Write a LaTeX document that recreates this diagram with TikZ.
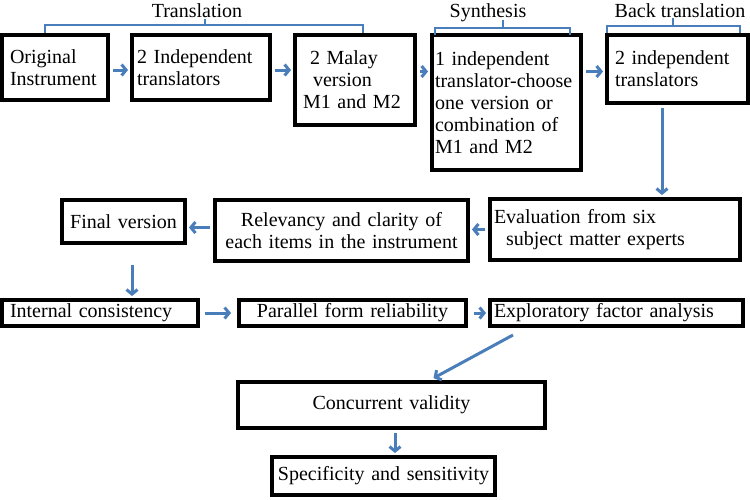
\documentclass[tikz,border=0pt]{standalone}
\usepackage{fontspec}
\setmainfont{Liberation Serif}
\usetikzlibrary{arrows.meta,positioning}
\definecolor{arrblue}{RGB}{74,126,187}

\begin{document}
\begin{tikzpicture}[x=1pt,y=-1pt,
every node/.style={draw,line width=4pt,inner ysep=0pt,font=\fontsize{20}{22}\selectfont},
arr/.style={draw=arrblue,line width=3pt,shorten <=3pt,shorten >=2pt,
  -{Straight Barb[length=4.5pt,width=11pt]}},
brace/.style={draw=arrblue,line width=1.5pt},
lbl/.style={draw=none,anchor=base}]

\useasboundingbox (0,0) rectangle (750,499);

% first row
\node[text width=90pt,inner xsep=8pt,minimum height=65pt,align=left]
(B1) at (55,67.5) {Original\\Instrument};
\node[text width=128pt,inner xsep=5pt,minimum height=65pt,align=left]
(B2) at (201,67.5) {2 Independent\\translators};
\node[text width=104pt,inner xsep=8pt,minimum height=90pt,align=left]
(B3) at (355,80) {\hspace*{7pt}2 Malay\\\hspace*{10pt}version\\M1 and M2};
\node[text width=143pt,inner xsep=3pt,minimum height=135pt,align=left]
(B4) at (506.5,102.5) {1 independent\\translator-choose\\one version or\\combination of\\M1 and M2};
\node[text width=125pt,inner xsep=8pt,minimum height=68pt,align=left]
(B5) at (677.5,69) {2 independent\\translators};

% second row
\node[text width=113pt,inner xsep=5pt,minimum height=43pt,align=center]
(B6) at (123.5,221.5) {Final version};
\node[text width=243pt,inner xsep=5pt,minimum height=61pt,align=center]
(B7) at (341.5,230.5) {Relevancy and clarity of\\each items in the instrument};
\node[text width=242pt,inner xsep=4pt,minimum height=61pt,align=left]
(B8) at (615,229.5) {Evaluation from six\\\hspace*{12pt}subject matter experts};

% third row
\node[text width=180pt,inner xsep=8pt,minimum height=26pt,align=left]
(B9) at (100,313) {Internal consistency};
\node[text width=217pt,inner xsep=5pt,minimum height=26pt,align=center]
(B10) at (352.5,313) {Parallel form reliability};
\node[text width=245pt,inner xsep=4pt,minimum height=26pt,align=left]
(B11) at (616.5,313) {Exploratory factor analysis};

% last boxes
\node[text width=297pt,inner xsep=5pt,minimum height=46pt,align=center]
(B12) at (391.5,405) {Concurrent validity};
\node[text width=213pt,inner xsep=5pt,minimum height=38pt,align=center]
(B13) at (383.5,476) {Specificity and sensitivity};

% brackets
\draw[brace] (45,33) -- (45,25) -- (363,25) -- (363,33);
\draw[brace] (205,25) -- (205,19);
\node[lbl] (L1) at (197,17) {Translation};
\draw[brace] (435,35) -- (435,28) -- (570,28) -- (570,35);
\draw[brace] (503,28) -- (503,20);
\node[lbl] (L2) at (488,17) {Synthesis};
\draw[brace] (607,33) -- (607,26) -- (740,26) -- (740,33);
\draw[brace] (673,26) -- (673,18);
\node[lbl] (L3) at (680,17) {Back translation};

% arrows
\draw[arr] ([yshift=-2.5pt]B1.east) -- ([yshift=-2.5pt]B2.west);
\draw[arr] ([yshift=-2.5pt]B2.east) -- ([yshift=-2.5pt]B2.east -| B3.west);
\draw[arr] ([yshift=-4pt]B2.east -| B3.east) -- ([yshift=-4pt]B2.east -| B4.west);
\draw[arr] ([yshift=-4pt]B2.east -| B4.east) -- ([yshift=-4pt]B2.east -| B5.west);
\draw[arr] ([xshift=-15.5pt]B5.south) -- ([xshift=-15.5pt]B5.south |- B8.north);
\draw[arr] (B8.west) -- (B7.east |- B8.west);
\draw[arr] ([yshift=3pt]B7.west) -- ([yshift=3pt]B7.west -| B6.east);
\draw[arr,shorten <=20pt] ([xshift=8.5pt]B6.south) -- ([xshift=8.5pt]B6.south |- B9.north);
\draw[arr,shorten <=5pt,shorten >=6pt] (B9.east) -- (B10.west);
\draw[arr,shorten <=6pt] (B10.east) -- (B11.west);
\coordinate (D1) at (513,335);
\draw[arr,shorten <=0pt,shorten >=4pt] (D1) -- ([xshift=38.5pt]B12.north);
\draw[arr] ([xshift=3.5pt]B12.south) -- ([xshift=3.5pt]B12.south |- B13.north);
\end{tikzpicture}
\end{document}
